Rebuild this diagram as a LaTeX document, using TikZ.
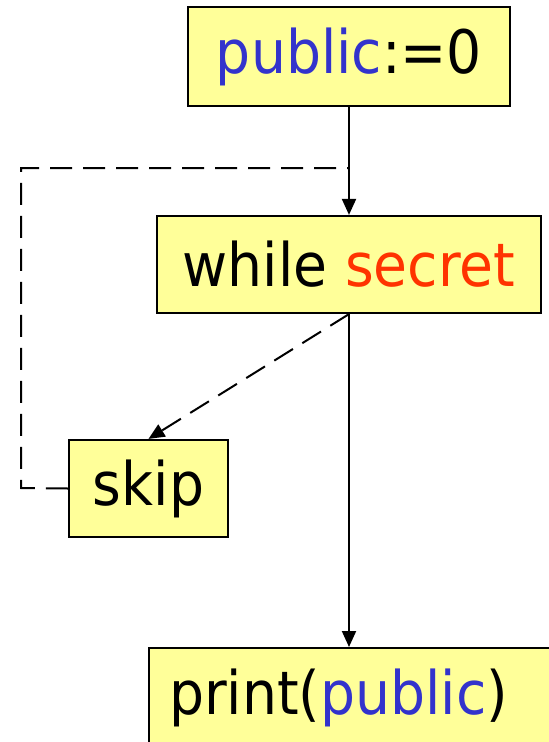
\documentclass[tikz,border=0pt]{standalone}
\usepackage{fontspec}
\setmainfont{DejaVu Sans}[FakeStretch=0.92]
\usetikzlibrary{arrows.meta}
\definecolor{boxfill}{HTML}{FFFF99}
\definecolor{pubblue}{HTML}{3333CC}
\definecolor{secred}{HTML}{FF3300}
\tikzset{
  stmt/.style={draw=black, line width=2.2pt, fill=boxfill, inner sep=0pt,
    font=\fontsize{60}{70}\selectfont},
  flow/.style={line width=2pt, -{Stealth[length=16pt,width=14pt,inset=0pt]}},
  dflow/.style={flow, dash pattern=on 22pt off 11pt},
  dline/.style={line width=2pt, dash pattern=on 22pt off 11pt}
}
\begin{document}
\begin{tikzpicture}[x=1pt,y=-1pt]
\useasboundingbox (0,0) rectangle (549,742);
\clip (0,0) rectangle (549,742);
\node[stmt, minimum width=322pt, minimum height=99pt] (pub) at (349,56.5)
  {\raisebox{-3pt}{\textcolor{pubblue}{public}:=0}};
\node[stmt, minimum width=384pt, minimum height=97pt] (wh) at (349,264.5)
  {\raisebox{-3pt}{while \textcolor{secred}{secret}}};
\node[stmt, minimum width=159pt, minimum height=97pt] (skip) at (148.5,488.5)
  {\raisebox{-3pt}{skip}};
\node[stmt, anchor=north west, text width=378pt, align=left, inner xsep=20pt,
  minimum height=100pt] (pr) at (148,647)
  {\raisebox{-3pt}{print(\textcolor{pubblue}{public})}};
\coordinate (j) at (349,168);
\coordinate (lc) at (21,488);
\draw[flow] (pub.south) -- (wh.north);
\draw[dline] (skip.west) -- (lc) |- (j);
\draw[dflow] (wh.south) -- (skip.north);
\draw[flow] (wh.south) -- (wh.south |- pr.north);
\end{tikzpicture}
\end{document}
